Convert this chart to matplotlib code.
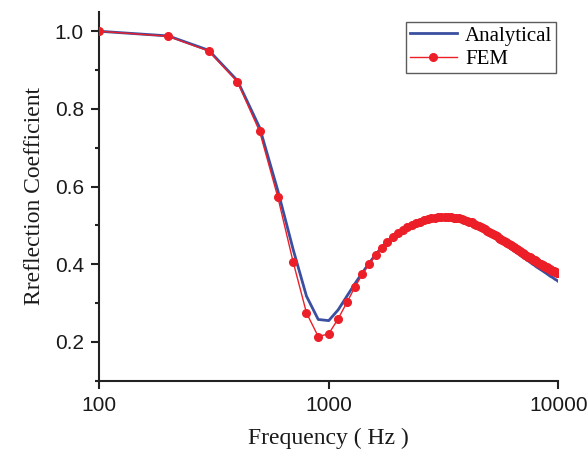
import matplotlib
matplotlib.use("Agg")
import matplotlib.pyplot as plt
from matplotlib.ticker import MultipleLocator, NullLocator, FixedLocator

# frequencies, 100 Hz steps
freq = list(range(100, 10001, 100))

analytical = [
    1.000, 0.988, 0.951, 0.873, 0.752, 0.590, 0.438, 0.318, 0.258, 0.255,
    0.283, 0.318, 0.350, 0.378, 0.403, 0.425, 0.443, 0.458, 0.471, 0.481,
    0.489, 0.496, 0.502, 0.506, 0.510, 0.513, 0.515, 0.517, 0.519, 0.520,
    0.520, 0.520, 0.520, 0.519, 0.518, 0.517, 0.515, 0.513, 0.511, 0.509,
    0.506, 0.503, 0.500, 0.497, 0.494, 0.491, 0.488, 0.484, 0.481, 0.478,
    0.475, 0.471, 0.468, 0.465, 0.462, 0.459, 0.456, 0.453, 0.450, 0.447,
    0.444, 0.441, 0.438, 0.435, 0.432, 0.430, 0.427, 0.424, 0.421, 0.419,
    0.416, 0.414, 0.411, 0.409, 0.406, 0.404, 0.401, 0.399, 0.397, 0.394,
    0.392, 0.390, 0.388, 0.386, 0.384, 0.382, 0.380, 0.378, 0.376, 0.374,
    0.372, 0.370, 0.368, 0.367, 0.365, 0.363, 0.361, 0.360, 0.358, 0.356,
]

fem = [
    1.000, 0.987, 0.949, 0.870, 0.742, 0.573, 0.406, 0.275, 0.214, 0.221,
    0.260, 0.302, 0.341, 0.374, 0.401, 0.423, 0.442, 0.457, 0.470, 0.480,
    0.488, 0.495, 0.501, 0.506, 0.510, 0.513, 0.516, 0.518, 0.520, 0.521,
    0.522, 0.522, 0.522, 0.521, 0.520, 0.519, 0.518, 0.516, 0.514, 0.512,
    0.510, 0.508, 0.505, 0.502, 0.499, 0.496, 0.493, 0.490, 0.487, 0.484,
    0.481, 0.478, 0.475, 0.472, 0.469, 0.466, 0.463, 0.460, 0.457, 0.455,
    0.452, 0.449, 0.447, 0.444, 0.442, 0.439, 0.437, 0.434, 0.432, 0.429,
    0.427, 0.425, 0.422, 0.420, 0.418, 0.416, 0.414, 0.412, 0.410, 0.408,
    0.406, 0.404, 0.402, 0.400, 0.399, 0.397, 0.395, 0.394, 0.392, 0.390,
    0.389, 0.387, 0.386, 0.384, 0.383, 0.382, 0.380, 0.379, 0.378, 0.377,
]

blue = "#3a4fa0"
red = "#ec1f28"

fig = plt.figure(figsize=(5.87, 4.55), dpi=100)
ax = fig.add_axes([0.169, 0.163, 0.782, 0.811])

ax.plot(freq, analytical, color=blue, lw=2.0, label="Analytical", zorder=2)
ax.plot(freq, fem, color=red, lw=1.0, marker="o", ms=5.5, mec=red, mfc=red,
        label="FEM", zorder=3)

ax.set_xscale("log")
ax.set_xlim(100, 10000)
ax.set_ylim(0.1, 1.05)

ax.xaxis.set_major_locator(FixedLocator([100, 1000, 10000]))
ax.xaxis.set_minor_locator(NullLocator())
ax.set_xticklabels(["100", "1000", "10000"])
ax.yaxis.set_major_locator(FixedLocator([0.2, 0.4, 0.6, 0.8, 1.0]))
ax.yaxis.set_minor_locator(MultipleLocator(0.1))

for s in ["top", "right"]:
    ax.spines[s].set_visible(False)
for s in ["left", "bottom"]:
    ax.spines[s].set_linewidth(1.5)
    ax.spines[s].set_color("#222222")

ax.tick_params(which="major", direction="out", length=6, width=1.5,
               labelsize=15, colors="#222222", pad=5)
ax.tick_params(which="minor", direction="out", length=3, width=1.5,
               colors="#222222")
for lab in ax.get_xticklabels() + ax.get_yticklabels():
    lab.set_fontfamily("Liberation Sans")
    lab.set_color("#1a1a1a")

ax.set_xlabel("Frequency ( Hz )", family="Liberation Serif", fontsize=17,
              labelpad=9, color="#1a1a1a")
ax.set_ylabel("Rreflection Coefficient", family="Liberation Serif",
              fontsize=17, labelpad=7, color="#1a1a1a")

leg = ax.legend(loc="upper right", bbox_to_anchor=(0.996, 0.973),
                prop={"family": "Liberation Serif", "size": 15},
                frameon=True, fancybox=False, borderpad=0.2,
                handlelength=2.25, handletextpad=0.4, labelspacing=0.2,
                borderaxespad=0.0)
leg.get_frame().set_edgecolor("#333333")
leg.get_frame().set_linewidth(1.0)

fig.savefig("out.png", dpi=100)
